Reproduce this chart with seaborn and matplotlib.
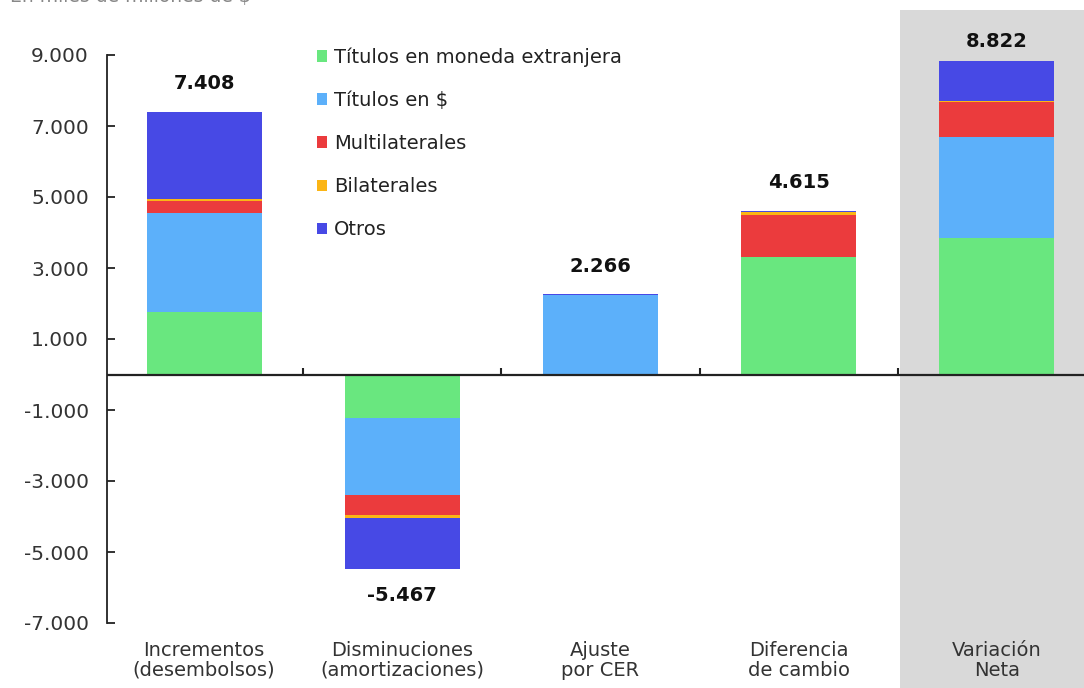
import numpy as np
import pandas as pd
import matplotlib
matplotlib.use("Agg")
import matplotlib.pyplot as plt
from matplotlib.patches import Patch, Rectangle
import seaborn as sns

categories = ["Incrementos\n(desembolsos)", "Disminuciones\n(amortizaciones)",
              "Ajuste\npor CER", "Diferencia\nde cambio", "Variación\nNeta"]
series_names = ["Títulos en moneda extranjera", "Títulos en $", "Multilaterales",
                "Bilaterales", "Otros"]
titulos_me = [1760, -1225, 0, 3310, 3845]
titulos_ars = [2790, -2170, 2236, 0, 2856]
multilaterales = [350, -560, 0, 1183, 973]
bilaterales = [30, -90, 0, 90, 30]
otros = [2478, -1422, 30, 32, 1118]
totals = [7408, -5467, 2266, 4615, 8822]
yticks = [-7000, -5000, -3000, -1000, 1000, 3000, 5000, 7000, 9000]

colors = ["#69E77F", "#5CB0FA", "#EB3B3D", "#FBB515", "#4749E5"]

sns.set_theme(style="white")
plt.rcParams["font.family"] = ["DejaVu Sans"]

fig = plt.figure(figsize=(10.84, 6.88), dpi=100)
# shaded "Variación Neta" panel
fig.patches.append(Rectangle((900 / 1084, 0), 1 - 900 / 1084, (688 - 10) / 688,
                             transform=fig.transFigure, facecolor="#D9D9D9",
                             edgecolor="none", zorder=0))
ax = fig.add_axes([107 / 1084, (688 - 623) / 688, 1 - 107 / 1084, (623 - 55) / 688])
ax.set_facecolor("none")
ax.set_zorder(2)

series = [titulos_me, titulos_ars, multilaterales, bilaterales, otros]
cum = np.cumsum(np.array(series, dtype=float), axis=0)
for k in range(len(series) - 1, -1, -1):
    df = pd.DataFrame({"cat": categories, "val": cum[k]})
    sns.barplot(data=df, x="cat", y="val", color=colors[k], saturation=1,
                width=0.58, linewidth=0, ax=ax, order=categories, zorder=2)

ax.set_xlim(-0.49, 4.44)
ax.set_ylim(-7000, 9000)
ax.set_xlabel("")
ax.set_ylabel("")

for s in ["top", "right", "bottom"]:
    ax.spines[s].set_visible(False)
ax.spines["left"].set_color("#222222")
ax.spines["left"].set_linewidth(1.3)
ax.axhline(0, color="#222222", linewidth=1.6, zorder=3)

ax.set_yticks(yticks)
ax.set_yticklabels([f"{v:,}".replace(",", ".") for v in yticks])
ax.tick_params(axis="y", direction="in", length=6, width=1.3, color="#222222",
               labelsize=14.5, labelcolor="#333333", pad=13, left=True)
ax.tick_params(axis="x", length=0, labelsize=14, labelcolor="#333333", pad=13)
for lab in ax.get_xticklabels():
    lab.set_linespacing(1.05)

# separators at zero line
sec = ax.secondary_xaxis(7000 / 16000)
sec.set_xticks([0.5, 1.5, 2.5, 3.5])
sec.set_xticklabels([])
sec.tick_params(direction="in", length=5, width=1.5, color="#222222")
sec.spines["bottom"].set_visible(False)
sec.spines["top"].set_visible(False)

label_offsets = [20, -19.5, 20, 20, 14]
for i, t in enumerate(totals):
    txt = f"{t:,}".replace(",", ".")
    ax.annotate(txt, (i, t), xytext=(0, label_offsets[i]), textcoords="offset points",
                ha="center", va="center", fontsize=14, fontweight="bold",
                color="#111111")

handles = [Patch(facecolor=c, edgecolor="none", label=n) for c, n in zip(colors, series_names)]
leg = ax.legend(handles=handles, loc="upper left", bbox_to_anchor=(202 / 977, 1.027),
                frameon=False, fontsize=14, handlelength=0.55, handleheight=0.55,
                handletextpad=0.35, labelspacing=1.24, borderaxespad=0)
for t in leg.get_texts():
    t.set_color("#222222")

fig.text(10 / 1084, 1 - 2 / 688, "En miles de millones de $", fontsize=13.5,
         color="#888888", va="baseline", ha="left")

fig.savefig("out.png", dpi=100)
